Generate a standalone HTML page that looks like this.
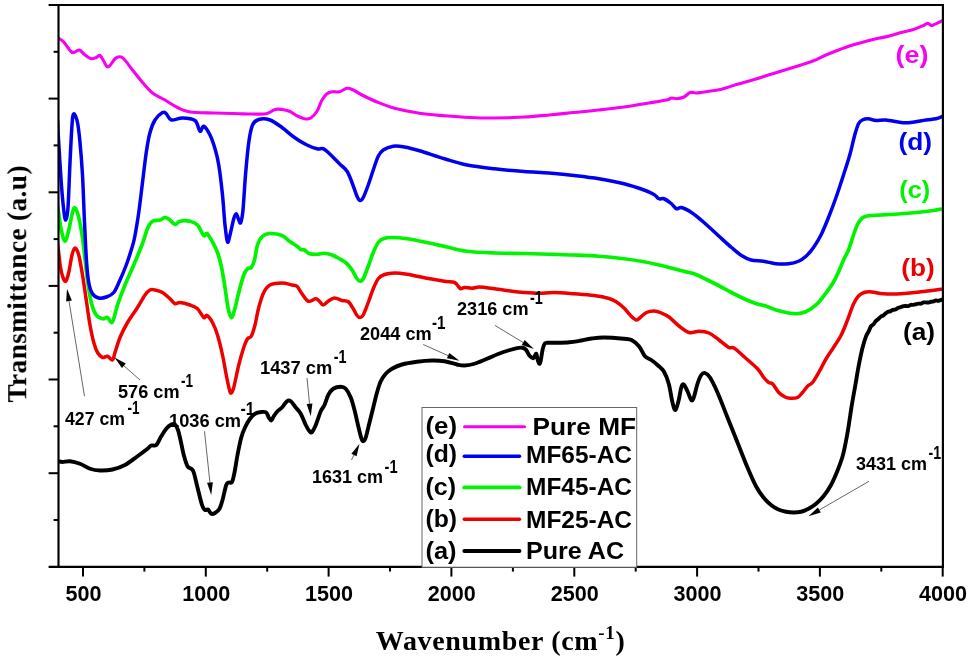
<!DOCTYPE html>
<html><head><meta charset="utf-8"><title>FTIR spectra</title>
<style>
html,body{margin:0;padding:0;background:#fff;}
text.fs,g.fs text{font-family:"Liberation Sans",sans-serif;font-weight:bold;}
text.fr{font-family:"Liberation Serif",serif;font-weight:bold;}
body{width:968px;height:661px;overflow:hidden;position:relative;font-family:"Liberation Sans",sans-serif;}
</style></head><body>
<svg width="968" height="661" viewBox="0 0 968 661" style="display:block;position:absolute;left:0;top:0">
<rect x="0" y="0" width="968" height="661" fill="#ffffff"/>
<filter id="idf" x="0" y="0" width="968" height="661" filterUnits="userSpaceOnUse"><feOffset dx="0" dy="0"/></filter>
<g filter="url(#idf)">
<defs><clipPath id="cp"><rect x="58.5" y="5.0" width="884.4" height="561.8"/></clipPath></defs>
<g clip-path="url(#cp)" fill="none" stroke-linejoin="round" stroke-linecap="round">
<path d="M57.50,461.00C57.62,461.04 57.42,461.08 58.25,461.25C59.08,461.42 60.54,462.00 62.50,462.00C64.46,462.00 67.08,460.96 70.00,461.25C72.92,461.54 76.67,462.50 80.00,463.75C83.33,465.00 86.67,467.62 90.00,468.75C93.33,469.88 96.25,470.38 100.00,470.50C103.75,470.62 108.33,470.42 112.50,469.50C116.67,468.58 120.83,467.21 125.00,465.00C129.17,462.79 133.75,458.96 137.50,456.25C141.25,453.54 145.21,450.54 147.50,448.75C149.79,446.96 149.79,446.12 151.25,445.50C152.71,444.88 154.58,446.54 156.25,445.00C157.92,443.46 159.58,438.96 161.25,436.25C162.92,433.54 164.58,430.71 166.25,428.75C167.92,426.79 169.79,425.21 171.25,424.50C172.71,423.79 173.88,423.58 175.00,424.50C176.12,425.42 177.08,427.42 178.00,430.00C178.92,432.58 179.54,435.83 180.50,440.00C181.46,444.17 182.58,450.62 183.75,455.00C184.92,459.38 186.25,463.96 187.50,466.25C188.75,468.54 190.21,467.71 191.25,468.75C192.29,469.79 192.71,469.38 193.75,472.50C194.79,475.62 196.12,482.08 197.50,487.50C198.88,492.92 200.75,501.25 202.00,505.00C203.25,508.75 204.00,509.25 205.00,510.00C206.00,510.75 206.96,508.88 208.00,509.50C209.04,510.12 210.08,513.17 211.25,513.75C212.42,514.33 213.62,513.83 215.00,513.00C216.38,512.17 218.25,510.92 219.50,508.75C220.75,506.58 221.38,503.96 222.50,500.00C223.62,496.04 225.21,487.92 226.25,485.00C227.29,482.08 227.79,483.00 228.75,482.50C229.71,482.00 231.04,483.67 232.00,482.00C232.96,480.33 233.58,477.00 234.50,472.50C235.42,468.00 236.38,460.83 237.50,455.00C238.62,449.17 240.00,442.08 241.25,437.50C242.50,432.92 243.54,430.62 245.00,427.50C246.46,424.38 248.33,421.04 250.00,418.75C251.67,416.46 253.12,414.88 255.00,413.75C256.88,412.62 259.38,412.21 261.25,412.00C263.12,411.79 265.00,411.58 266.25,412.50C267.50,413.42 267.92,416.17 268.75,417.50C269.58,418.83 270.42,420.71 271.25,420.50C272.08,420.29 272.71,417.79 273.75,416.25C274.79,414.71 276.12,412.71 277.50,411.25C278.88,409.79 280.42,409.17 282.00,407.50C283.58,405.83 285.54,402.29 287.00,401.25C288.46,400.21 289.29,400.21 290.75,401.25C292.21,402.29 294.08,405.42 295.75,407.50C297.42,409.58 299.08,410.83 300.75,413.75C302.42,416.67 304.29,422.08 305.75,425.00C307.21,427.92 308.46,430.08 309.50,431.25C310.54,432.42 310.96,433.04 312.00,432.00C313.04,430.96 314.29,428.46 315.75,425.00C317.21,421.54 319.29,414.58 320.75,411.25C322.21,407.92 323.25,407.71 324.50,405.00C325.75,402.29 326.79,397.71 328.25,395.00C329.71,392.29 331.17,390.12 333.25,388.75C335.33,387.38 338.67,386.75 340.75,386.75C342.83,386.75 344.08,386.96 345.75,388.75C347.42,390.54 349.29,393.96 350.75,397.50C352.21,401.04 353.25,405.21 354.50,410.00C355.75,414.79 357.08,421.46 358.25,426.25C359.42,431.04 360.67,436.25 361.50,438.75C362.33,441.25 362.54,441.46 363.25,441.25C363.96,441.04 364.71,440.62 365.75,437.50C366.79,434.38 368.25,427.50 369.50,422.50C370.75,417.50 372.00,412.50 373.25,407.50C374.50,402.50 375.75,396.88 377.00,392.50C378.25,388.12 379.29,384.38 380.75,381.25C382.21,378.12 383.88,375.83 385.75,373.75C387.62,371.67 389.29,370.29 392.00,368.75C394.71,367.21 397.83,365.67 402.00,364.50C406.17,363.33 412.00,362.42 417.00,361.75C422.00,361.08 427.42,360.58 432.00,360.50C436.58,360.42 440.33,360.58 444.50,361.25C448.67,361.92 453.67,363.79 457.00,364.50C460.33,365.21 461.58,365.62 464.50,365.50C467.42,365.38 470.75,364.88 474.50,363.75C478.25,362.62 482.42,360.62 487.00,358.75C491.58,356.88 497.17,354.24 502.00,352.50C506.83,350.76 512.65,349.10 516.00,348.30C519.35,347.50 520.45,347.48 522.10,347.70C523.75,347.92 524.65,348.25 525.90,349.60C527.15,350.95 528.37,354.35 529.60,355.80C530.83,357.25 532.37,358.40 533.30,358.30C534.23,358.20 534.68,355.93 535.20,355.20C535.72,354.47 536.00,353.18 536.40,353.90C536.80,354.62 537.12,357.85 537.60,359.50C538.08,361.15 538.78,363.60 539.30,363.80C539.82,364.00 540.15,363.07 540.70,360.70C541.25,358.33 541.97,352.38 542.60,349.60C543.23,346.82 543.78,345.13 544.50,344.00C545.22,342.87 544.83,343.00 546.90,342.80C548.97,342.60 553.17,342.88 556.90,342.80C560.63,342.72 565.58,342.62 569.30,342.30C573.02,341.98 575.48,341.53 579.20,340.90C582.92,340.27 587.47,339.07 591.60,338.50C595.73,337.93 598.60,337.46 604.00,337.50C609.40,337.54 619.42,338.33 624.00,338.75C628.58,339.17 629.00,338.75 631.50,340.00C634.00,341.25 636.75,343.54 639.00,346.25C641.25,348.96 642.96,353.96 645.00,356.25C647.04,358.54 649.17,358.54 651.25,360.00C653.33,361.46 655.42,363.12 657.50,365.00C659.58,366.88 661.88,368.12 663.75,371.25C665.62,374.38 667.29,378.54 668.75,383.75C670.21,388.96 671.38,398.12 672.50,402.50C673.62,406.88 674.46,410.42 675.50,410.00C676.54,409.58 677.79,403.75 678.75,400.00C679.71,396.25 680.42,390.08 681.25,387.50C682.08,384.92 682.71,383.88 683.75,384.50C684.79,385.12 686.25,388.67 687.50,391.25C688.75,393.83 690.21,398.96 691.25,400.00C692.29,401.04 692.71,400.21 693.75,397.50C694.79,394.79 696.25,387.50 697.50,383.75C698.75,380.00 700.00,376.79 701.25,375.00C702.50,373.21 703.54,372.58 705.00,373.00C706.46,373.42 707.92,374.25 710.00,377.50C712.08,380.75 714.58,385.83 717.50,392.50C720.42,399.17 724.17,409.17 727.50,417.50C730.83,425.83 734.17,434.17 737.50,442.50C740.83,450.83 744.42,460.21 747.50,467.50C750.58,474.79 753.33,481.25 756.00,486.25C758.67,491.25 761.00,494.38 763.50,497.50C766.00,500.62 768.50,503.00 771.00,505.00C773.50,507.00 776.00,508.38 778.50,509.50C781.00,510.62 783.50,511.25 786.00,511.75C788.50,512.25 791.00,512.50 793.50,512.50C796.00,512.50 798.50,512.38 801.00,511.75C803.50,511.12 806.00,510.08 808.50,508.75C811.00,507.42 813.50,505.83 816.00,503.75C818.50,501.67 821.00,499.38 823.50,496.25C826.00,493.12 828.71,489.17 831.00,485.00C833.29,480.83 835.38,475.83 837.25,471.25C839.12,466.67 841.02,461.38 842.25,457.50C843.48,453.62 843.64,452.58 844.60,448.00C845.56,443.42 846.83,436.93 848.00,430.00C849.17,423.07 850.40,413.73 851.60,406.40C852.80,399.07 854.00,392.87 855.20,386.00C856.40,379.13 857.60,371.50 858.80,365.20C860.00,358.90 861.18,353.05 862.40,348.20C863.62,343.35 865.08,338.85 866.10,336.10C867.12,333.35 867.70,333.33 868.50,331.71C869.30,330.09 870.10,327.61 870.90,326.40C871.70,325.19 872.52,325.30 873.33,324.42C874.14,323.54 874.96,322.02 875.77,321.13C876.58,320.24 877.39,319.83 878.20,319.10C879.01,318.37 879.82,317.30 880.63,316.73C881.44,316.17 882.26,316.25 883.07,315.71C883.88,315.17 884.70,314.16 885.50,313.50C886.30,312.84 887.10,312.12 887.90,311.77C888.70,311.42 889.50,311.70 890.30,311.39C891.10,311.08 891.84,310.22 892.70,309.90C893.56,309.58 894.55,309.83 895.47,309.48C896.39,309.13 897.31,308.23 898.23,307.82C899.15,307.41 900.12,307.29 901.00,307.00C901.88,306.71 902.67,306.27 903.50,306.10C904.33,305.93 905.17,305.97 906.00,305.97C906.83,305.97 907.67,306.31 908.50,306.12C909.33,305.93 910.17,305.03 911.00,304.82C911.83,304.61 912.67,304.96 913.50,304.86C914.33,304.76 915.17,304.46 916.00,304.25C916.83,304.04 917.67,303.69 918.50,303.59C919.33,303.49 920.17,303.83 921.00,303.64C921.83,303.45 922.67,302.65 923.50,302.45C924.33,302.25 925.17,302.41 926.00,302.42C926.83,302.43 927.67,302.60 928.50,302.49C929.33,302.38 930.18,301.93 931.00,301.75C931.82,301.57 932.60,301.63 933.40,301.42C934.20,301.21 935.00,300.55 935.80,300.46C936.60,300.37 937.40,300.94 938.20,300.87C939.00,300.80 939.80,300.29 940.60,300.06C941.40,299.83 942.27,299.64 943.00,299.50C943.73,299.36 944.67,299.25 945.00,299.20" stroke="#000000" stroke-width="3.9"/>
<path d="M57.50,243.00C57.62,243.96 57.75,244.67 58.25,248.75C58.75,252.83 59.71,262.71 60.50,267.50C61.29,272.29 62.12,275.21 63.00,277.50C63.88,279.79 64.79,282.08 65.75,281.25C66.71,280.42 67.71,276.88 68.75,272.50C69.79,268.12 70.96,259.08 72.00,255.00C73.04,250.92 73.88,248.00 75.00,248.00C76.12,248.00 77.50,250.50 78.75,255.00C80.00,259.50 81.25,267.50 82.50,275.00C83.75,282.50 85.00,291.67 86.25,300.00C87.50,308.33 88.75,317.92 90.00,325.00C91.25,332.08 92.50,337.92 93.75,342.50C95.00,347.08 96.04,350.00 97.50,352.50C98.96,355.00 100.83,356.88 102.50,357.50C104.17,358.12 105.83,355.83 107.50,356.25C109.17,356.67 111.25,360.62 112.50,360.00C113.75,359.38 113.75,356.25 115.00,352.50C116.25,348.75 117.92,342.50 120.00,337.50C122.08,332.50 124.58,327.50 127.50,322.50C130.42,317.50 134.58,312.08 137.50,307.50C140.42,302.92 142.92,297.92 145.00,295.00C147.08,292.08 148.33,290.83 150.00,290.00C151.67,289.17 152.92,289.58 155.00,290.00C157.08,290.42 160.00,291.04 162.50,292.50C165.00,293.96 167.92,296.88 170.00,298.75C172.08,300.62 173.33,303.12 175.00,303.75C176.67,304.38 177.50,302.29 180.00,302.50C182.50,302.71 187.08,303.96 190.00,305.00C192.92,306.04 195.21,306.67 197.50,308.75C199.79,310.83 202.17,316.38 203.75,317.50C205.33,318.62 205.54,314.67 207.00,315.50C208.46,316.33 210.75,319.25 212.50,322.50C214.25,325.75 215.83,329.58 217.50,335.00C219.17,340.42 221.04,348.33 222.50,355.00C223.96,361.67 225.08,369.17 226.25,375.00C227.42,380.83 228.67,387.00 229.50,390.00C230.33,393.00 230.54,393.42 231.25,393.00C231.96,392.58 232.50,392.17 233.75,387.50C235.00,382.83 237.08,371.67 238.75,365.00C240.42,358.33 242.29,351.88 243.75,347.50C245.21,343.12 246.25,340.62 247.50,338.75C248.75,336.88 250.00,338.54 251.25,336.25C252.50,333.96 253.75,329.79 255.00,325.00C256.25,320.21 257.29,312.92 258.75,307.50C260.21,302.08 261.88,296.25 263.75,292.50C265.62,288.75 266.96,286.58 270.00,285.00C273.04,283.42 278.33,283.00 282.00,283.00C285.67,283.00 289.50,284.46 292.00,285.00C294.50,285.54 295.33,284.79 297.00,286.25C298.67,287.71 300.12,291.25 302.00,293.75C303.88,296.25 305.96,300.42 308.25,301.25C310.54,302.08 313.88,298.75 315.75,298.75C317.62,298.75 318.25,300.21 319.50,301.25C320.75,302.29 321.79,305.00 323.25,305.00C324.71,305.00 326.38,302.42 328.25,301.25C330.12,300.08 332.21,298.12 334.50,298.00C336.79,297.88 339.71,299.88 342.00,300.50C344.29,301.12 346.38,300.38 348.25,301.75C350.12,303.12 351.79,306.46 353.25,308.75C354.71,311.04 355.88,314.04 357.00,315.50C358.12,316.96 358.96,317.58 360.00,317.50C361.04,317.42 361.88,317.50 363.25,315.00C364.62,312.50 366.58,306.88 368.25,302.50C369.92,298.12 371.58,292.71 373.25,288.75C374.92,284.79 376.38,281.12 378.25,278.75C380.12,276.38 381.79,275.46 384.50,274.50C387.21,273.54 390.75,273.04 394.50,273.00C398.25,272.96 401.58,273.38 407.00,274.25C412.42,275.12 420.75,277.08 427.00,278.25C433.25,279.42 439.92,280.54 444.50,281.25C449.08,281.96 452.21,281.67 454.50,282.50C456.79,283.33 457.21,285.21 458.25,286.25C459.29,287.29 459.71,288.54 460.75,288.75C461.79,288.96 462.62,287.58 464.50,287.50C466.38,287.42 469.50,288.33 472.00,288.25C474.50,288.17 475.75,286.92 479.50,287.00C483.25,287.08 489.08,288.04 494.50,288.75C499.92,289.46 507.08,290.62 512.00,291.25C516.92,291.88 519.50,292.17 524.00,292.50C528.50,292.83 534.00,293.25 539.00,293.25C544.00,293.25 548.17,292.42 554.00,292.50C559.83,292.58 567.33,293.25 574.00,293.75C580.67,294.25 588.17,294.71 594.00,295.50C599.83,296.29 605.25,297.42 609.00,298.50C612.75,299.58 614.00,300.42 616.50,302.00C619.00,303.58 621.50,305.58 624.00,308.00C626.50,310.42 629.42,314.50 631.50,316.50C633.58,318.50 635.04,319.83 636.50,320.00C637.96,320.17 638.58,318.75 640.25,317.50C641.92,316.25 644.21,313.58 646.50,312.50C648.79,311.42 651.50,310.92 654.00,311.00C656.50,311.08 659.00,312.00 661.50,313.00C664.00,314.00 666.08,314.83 669.00,317.00C671.92,319.17 675.67,323.42 679.00,326.00C682.33,328.58 685.67,331.62 689.00,332.50C692.33,333.38 695.67,331.17 699.00,331.25C702.33,331.33 705.67,331.54 709.00,333.00C712.33,334.46 715.67,337.58 719.00,340.00C722.33,342.42 726.50,346.17 729.00,347.50C731.50,348.83 731.33,346.33 734.00,348.00C736.67,349.67 741.08,354.04 745.00,357.50C748.92,360.96 754.38,365.42 757.50,368.75C760.62,372.08 761.88,375.21 763.75,377.50C765.62,379.79 767.29,381.46 768.75,382.50C770.21,383.54 770.83,382.08 772.50,383.75C774.17,385.42 776.67,390.29 778.75,392.50C780.83,394.71 783.12,396.04 785.00,397.00C786.88,397.96 787.92,398.17 790.00,398.25C792.08,398.33 795.42,398.46 797.50,397.50C799.58,396.54 800.83,394.38 802.50,392.50C804.17,390.62 805.83,387.92 807.50,386.25C809.17,384.58 810.58,384.88 812.50,382.50C814.42,380.12 816.75,375.92 819.00,372.00C821.25,368.08 823.58,363.08 826.00,359.00C828.42,354.92 831.00,351.42 833.50,347.50C836.00,343.58 838.67,340.08 841.00,335.50C843.33,330.92 845.42,325.25 847.50,320.00C849.58,314.75 851.67,308.00 853.50,304.00C855.33,300.00 856.62,297.95 858.50,296.00C860.38,294.05 862.53,292.97 864.80,292.30C867.07,291.63 868.98,291.76 872.10,292.00C875.22,292.24 878.68,293.46 883.50,293.75C888.32,294.04 894.75,294.08 901.00,293.75C907.25,293.42 914.00,292.54 921.00,291.75C928.00,290.96 939.00,289.49 943.00,289.00C947.00,288.51 944.67,288.83 945.00,288.80" stroke="#ee0000" stroke-width="3.5"/>
<path d="M57.50,205.00C57.62,205.83 57.62,205.83 58.25,210.00C58.88,214.17 60.12,224.79 61.25,230.00C62.38,235.21 63.75,241.25 65.00,241.25C66.25,241.25 67.50,234.79 68.75,230.00C70.00,225.21 71.46,216.17 72.50,212.50C73.54,208.83 73.96,207.17 75.00,208.00C76.04,208.83 77.50,212.50 78.75,217.50C80.00,222.50 81.04,227.58 82.50,238.00C83.96,248.42 86.04,269.25 87.50,280.00C88.96,290.75 89.79,296.67 91.25,302.50C92.71,308.33 94.38,312.29 96.25,315.00C98.12,317.71 100.62,318.33 102.50,318.75C104.38,319.17 106.04,316.88 107.50,317.50C108.96,318.12 110.21,322.29 111.25,322.50C112.29,322.71 112.71,321.67 113.75,318.75C114.79,315.83 115.62,310.62 117.50,305.00C119.38,299.38 122.29,291.67 125.00,285.00C127.71,278.33 130.83,271.92 133.75,265.00C136.67,258.08 140.21,249.58 142.50,243.50C144.79,237.42 145.83,232.21 147.50,228.50C149.17,224.79 150.42,222.67 152.50,221.25C154.58,219.83 157.92,220.62 160.00,220.00C162.08,219.38 163.33,217.50 165.00,217.50C166.67,217.50 168.33,218.83 170.00,220.00C171.67,221.17 173.33,224.29 175.00,224.50C176.67,224.71 177.50,221.79 180.00,221.25C182.50,220.71 187.08,220.62 190.00,221.25C192.92,221.88 195.21,222.62 197.50,225.00C199.79,227.38 202.17,234.08 203.75,235.50C205.33,236.92 205.54,232.42 207.00,233.50C208.46,234.58 210.75,238.83 212.50,242.00C214.25,245.17 216.04,248.50 217.50,252.50C218.96,256.50 220.00,260.17 221.25,266.00C222.50,271.83 223.88,280.58 225.00,287.50C226.12,294.42 226.96,302.50 228.00,307.50C229.04,312.50 230.17,317.08 231.25,317.50C232.33,317.92 233.25,314.17 234.50,310.00C235.75,305.83 237.21,298.33 238.75,292.50C240.29,286.67 242.29,278.96 243.75,275.00C245.21,271.04 246.25,270.00 247.50,268.75C248.75,267.50 250.08,268.96 251.25,267.50C252.42,266.04 253.46,263.75 254.50,260.00C255.54,256.25 256.17,248.96 257.50,245.00C258.83,241.04 260.42,238.17 262.50,236.25C264.58,234.33 266.75,233.62 270.00,233.50C273.25,233.38 278.75,234.21 282.00,235.50C285.25,236.79 287.00,239.46 289.50,241.25C292.00,243.04 295.12,244.88 297.00,246.25C298.88,247.62 299.50,248.88 300.75,249.50C302.00,250.12 303.04,249.29 304.50,250.00C305.96,250.71 307.42,253.04 309.50,253.75C311.58,254.46 314.50,254.33 317.00,254.25C319.50,254.17 322.00,253.12 324.50,253.25C327.00,253.38 329.50,254.08 332.00,255.00C334.50,255.92 337.00,257.29 339.50,258.75C342.00,260.21 344.92,261.88 347.00,263.75C349.08,265.62 350.33,267.50 352.00,270.00C353.67,272.50 355.67,276.88 357.00,278.75C358.33,280.62 358.96,281.25 360.00,281.25C361.04,281.25 361.88,281.25 363.25,278.75C364.62,276.25 366.58,270.62 368.25,266.25C369.92,261.88 371.58,256.46 373.25,252.50C374.92,248.54 376.58,244.79 378.25,242.50C379.92,240.21 380.96,239.58 383.25,238.75C385.54,237.92 388.04,237.50 392.00,237.50C395.96,237.50 401.17,237.92 407.00,238.75C412.83,239.58 420.33,241.12 427.00,242.50C433.67,243.88 440.33,245.54 447.00,247.00C453.67,248.46 459.08,250.25 467.00,251.25C474.92,252.25 485.00,252.62 494.50,253.00C504.00,253.38 514.92,253.29 524.00,253.50C533.08,253.71 540.67,254.00 549.00,254.25C557.33,254.50 565.67,254.67 574.00,255.00C582.33,255.33 590.67,255.62 599.00,256.25C607.33,256.88 616.50,257.83 624.00,258.75C631.50,259.67 638.17,260.71 644.00,261.75C649.83,262.79 654.00,263.83 659.00,265.00C664.00,266.17 670.25,267.79 674.00,268.75C677.75,269.71 678.17,269.92 681.50,270.75C684.83,271.58 689.83,272.29 694.00,273.75C698.17,275.21 702.33,277.50 706.50,279.50C710.67,281.50 714.83,283.58 719.00,285.75C723.17,287.92 727.33,290.33 731.50,292.50C735.67,294.67 739.83,296.88 744.00,298.75C748.17,300.62 752.83,302.54 756.50,303.75C760.17,304.96 762.75,304.96 766.00,306.00C769.25,307.04 772.25,308.83 776.00,310.00C779.75,311.17 785.17,312.38 788.50,313.00C791.83,313.62 793.50,313.83 796.00,313.75C798.50,313.67 801.00,313.33 803.50,312.50C806.00,311.67 808.50,310.42 811.00,308.75C813.50,307.08 816.00,305.12 818.50,302.50C821.00,299.88 823.50,296.42 826.00,293.00C828.50,289.58 831.17,286.08 833.50,282.00C835.83,277.92 838.25,272.33 840.00,268.50C841.75,264.67 842.58,262.08 844.00,259.00C845.42,255.92 846.92,254.00 848.50,250.00C850.08,246.00 852.04,239.17 853.50,235.00C854.96,230.83 855.79,227.83 857.25,225.00C858.71,222.17 860.38,219.54 862.25,218.00C864.12,216.46 865.38,216.25 868.50,215.75C871.62,215.25 875.58,215.33 881.00,215.00C886.42,214.67 894.33,214.25 901.00,213.75C907.67,213.25 915.58,212.54 921.00,212.00C926.42,211.46 929.83,211.04 933.50,210.50C937.17,209.96 941.08,209.12 943.00,208.75C944.92,208.38 944.67,208.38 945.00,208.30" stroke="#00f400" stroke-width="3.7"/>
<path d="M57.50,120.00C57.62,122.50 57.62,124.58 58.25,135.00C58.88,145.42 60.33,170.00 61.25,182.50C62.17,195.00 63.00,203.75 63.75,210.00C64.50,216.25 65.04,220.42 65.75,220.00C66.46,219.58 67.29,217.08 68.00,207.50C68.71,197.92 69.33,176.25 70.00,162.50C70.67,148.75 71.38,133.12 72.00,125.00C72.62,116.88 72.83,114.17 73.75,113.75C74.67,113.33 76.46,117.71 77.50,122.50C78.54,127.29 79.17,133.75 80.00,142.50C80.83,151.25 81.75,161.75 82.50,175.00C83.25,188.25 83.83,207.67 84.50,222.00C85.17,236.33 85.79,250.92 86.50,261.00C87.21,271.08 87.75,277.04 88.75,282.50C89.75,287.96 90.83,291.17 92.50,293.75C94.17,296.33 96.46,297.46 98.75,298.00C101.04,298.54 103.75,297.92 106.25,297.00C108.75,296.08 111.46,295.33 113.75,292.50C116.04,289.67 117.92,284.58 120.00,280.00C122.08,275.42 124.38,270.00 126.25,265.00C128.12,260.00 129.88,254.50 131.25,250.00C132.62,245.50 133.25,244.25 134.50,238.00C135.75,231.75 137.42,221.75 138.75,212.50C140.08,203.25 141.25,192.50 142.50,182.50C143.75,172.50 145.00,160.83 146.25,152.50C147.50,144.17 148.54,137.92 150.00,132.50C151.46,127.08 152.92,123.33 155.00,120.00C157.08,116.67 160.62,113.54 162.50,112.50C164.38,111.46 164.79,112.50 166.25,113.75C167.71,115.00 168.54,119.29 171.25,120.00C173.96,120.71 178.54,117.92 182.50,118.00C186.46,118.08 192.08,118.29 195.00,120.50C197.92,122.71 198.54,130.29 200.00,131.25C201.46,132.21 202.08,125.62 203.75,126.25C205.42,126.88 208.12,131.25 210.00,135.00C211.88,138.75 213.54,143.75 215.00,148.75C216.46,153.75 217.50,157.29 218.75,165.00C220.00,172.71 221.46,185.00 222.50,195.00C223.54,205.00 224.17,217.17 225.00,225.00C225.83,232.83 226.67,240.33 227.50,242.00C228.33,243.67 228.96,238.88 230.00,235.00C231.04,231.12 232.71,222.29 233.75,218.75C234.79,215.21 235.42,213.54 236.25,213.75C237.08,213.96 238.00,218.54 238.75,220.00C239.50,221.46 240.04,224.17 240.75,222.50C241.46,220.83 242.21,217.92 243.00,210.00C243.79,202.08 244.54,186.25 245.50,175.00C246.46,163.75 247.58,150.83 248.75,142.50C249.92,134.17 250.83,128.83 252.50,125.00C254.17,121.17 255.83,120.33 258.75,119.50C261.67,118.67 266.12,118.67 270.00,120.00C273.88,121.33 277.92,124.58 282.00,127.50C286.08,130.42 290.33,134.58 294.50,137.50C298.67,140.42 303.25,143.12 307.00,145.00C310.75,146.88 314.29,148.12 317.00,148.75C319.71,149.38 321.17,147.92 323.25,148.75C325.33,149.58 326.79,151.25 329.50,153.75C332.21,156.25 336.58,160.83 339.50,163.75C342.42,166.67 344.92,168.12 347.00,171.25C349.08,174.38 350.33,178.33 352.00,182.50C353.67,186.67 355.67,193.25 357.00,196.25C358.33,199.25 358.96,200.29 360.00,200.50C361.04,200.71 361.88,200.08 363.25,197.50C364.62,194.92 366.58,189.58 368.25,185.00C369.92,180.42 371.58,174.79 373.25,170.00C374.92,165.21 376.58,159.58 378.25,156.25C379.92,152.92 380.75,151.67 383.25,150.00C385.75,148.33 389.71,146.75 393.25,146.25C396.79,145.75 400.12,146.25 404.50,147.00C408.88,147.75 412.83,148.79 419.50,150.75C426.17,152.71 436.58,156.38 444.50,158.75C452.42,161.12 458.67,163.33 467.00,165.00C475.33,166.67 485.00,167.67 494.50,168.75C504.00,169.83 514.92,170.79 524.00,171.50C533.08,172.21 540.67,172.33 549.00,173.00C557.33,173.67 565.67,174.54 574.00,175.50C582.33,176.46 590.67,177.38 599.00,178.75C607.33,180.12 616.50,181.88 624.00,183.75C631.50,185.62 639.00,188.21 644.00,190.00C649.00,191.79 651.50,193.04 654.00,194.50C656.50,195.96 657.33,198.04 659.00,198.75C660.67,199.46 661.92,197.92 664.00,198.75C666.08,199.58 669.42,202.08 671.50,203.75C673.58,205.42 674.83,208.12 676.50,208.75C678.17,209.38 679.00,206.88 681.50,207.50C684.00,208.12 687.75,210.00 691.50,212.50C695.25,215.00 699.42,218.54 704.00,222.50C708.58,226.46 714.42,232.08 719.00,236.25C723.58,240.42 727.75,244.29 731.50,247.50C735.25,250.71 738.25,253.42 741.50,255.50C744.75,257.58 747.33,259.04 751.00,260.00C754.67,260.96 759.33,260.62 763.50,261.25C767.67,261.88 771.83,263.33 776.00,263.75C780.17,264.17 784.75,264.17 788.50,263.75C792.25,263.33 795.58,262.50 798.50,261.25C801.42,260.00 803.50,258.54 806.00,256.25C808.50,253.96 811.00,251.04 813.50,247.50C816.00,243.96 818.50,240.00 821.00,235.00C823.50,230.00 826.00,223.75 828.50,217.50C831.00,211.25 833.50,204.58 836.00,197.50C838.50,190.42 841.21,182.08 843.50,175.00C845.79,167.92 847.88,161.67 849.75,155.00C851.62,148.33 853.29,140.21 854.75,135.00C856.21,129.79 857.25,126.25 858.50,123.75C859.75,121.25 860.58,120.83 862.25,120.00C863.92,119.17 866.21,118.67 868.50,118.75C870.79,118.83 873.08,120.29 876.00,120.50C878.92,120.71 881.83,119.67 886.00,120.00C890.17,120.33 896.83,122.08 901.00,122.50C905.17,122.92 906.83,122.92 911.00,122.50C915.17,122.08 921.83,120.62 926.00,120.00C930.17,119.38 933.17,119.38 936.00,118.75C938.83,118.12 941.50,116.79 943.00,116.25C944.50,115.71 944.67,115.62 945.00,115.50" stroke="#0000ee" stroke-width="3.5"/>
<path d="M57.00,37.00C57.21,37.17 57.12,37.17 58.25,38.00C59.38,38.83 61.58,39.71 63.75,42.00C65.92,44.29 69.38,50.08 71.25,51.75C73.12,53.42 73.62,52.29 75.00,52.00C76.38,51.71 77.83,49.50 79.50,50.00C81.17,50.50 83.04,53.54 85.00,55.00C86.96,56.46 89.38,58.33 91.25,58.75C93.12,59.17 94.79,58.04 96.25,57.50C97.71,56.96 98.75,54.88 100.00,55.50C101.25,56.12 102.58,59.38 103.75,61.25C104.92,63.12 105.96,66.04 107.00,66.75C108.04,67.46 108.67,66.83 110.00,65.50C111.33,64.17 113.42,60.21 115.00,58.75C116.58,57.29 118.04,56.75 119.50,56.75C120.96,56.75 121.58,56.54 123.75,58.75C125.92,60.96 129.38,66.04 132.50,70.00C135.62,73.96 139.17,78.67 142.50,82.50C145.83,86.33 148.75,90.08 152.50,93.00C156.25,95.92 160.83,97.58 165.00,100.00C169.17,102.42 173.33,105.50 177.50,107.50C181.67,109.50 183.75,111.08 190.00,112.00C196.25,112.92 206.67,112.71 215.00,113.00C223.33,113.29 233.75,113.58 240.00,113.75C246.25,113.92 248.12,114.00 252.50,114.00C256.88,114.00 262.50,114.50 266.25,113.75C270.00,113.00 272.38,110.21 275.00,109.50C277.62,108.79 279.58,109.21 282.00,109.50C284.42,109.79 287.00,110.21 289.50,111.25C292.00,112.29 294.50,114.50 297.00,115.75C299.50,117.00 302.21,118.38 304.50,118.75C306.79,119.12 308.67,119.25 310.75,118.00C312.83,116.75 315.12,114.25 317.00,111.25C318.88,108.25 320.33,102.92 322.00,100.00C323.67,97.08 325.33,95.12 327.00,93.75C328.67,92.38 329.92,92.08 332.00,91.75C334.08,91.42 337.00,92.33 339.50,91.75C342.00,91.17 344.71,88.54 347.00,88.25C349.29,87.96 350.75,88.88 353.25,90.00C355.75,91.12 358.04,93.00 362.00,95.00C365.96,97.00 371.58,99.79 377.00,102.00C382.42,104.21 387.42,106.38 394.50,108.25C401.58,110.12 411.17,112.00 419.50,113.25C427.83,114.50 436.17,115.04 444.50,115.75C452.83,116.46 461.17,117.12 469.50,117.50C477.83,117.88 485.42,118.08 494.50,118.00C503.58,117.92 514.92,117.50 524.00,117.00C533.08,116.50 540.67,115.75 549.00,115.00C557.33,114.25 565.67,113.33 574.00,112.50C582.33,111.67 590.67,110.92 599.00,110.00C607.33,109.08 615.67,108.17 624.00,107.00C632.33,105.83 641.92,104.17 649.00,103.00C656.08,101.83 662.75,100.83 666.50,100.00C670.25,99.17 669.83,98.21 671.50,98.00C673.17,97.79 674.42,98.92 676.50,98.75C678.58,98.58 681.71,98.04 684.00,97.00C686.29,95.96 688.17,93.17 690.25,92.50C692.33,91.83 693.38,93.21 696.50,93.00C699.62,92.79 704.83,91.88 709.00,91.25C713.17,90.62 716.92,90.38 721.50,89.25C726.08,88.12 731.08,86.12 736.50,84.50C741.92,82.88 749.08,80.95 754.00,79.50C758.92,78.05 762.33,76.93 766.00,75.80C769.67,74.67 770.17,74.50 776.00,72.70C781.83,70.90 794.75,66.99 801.00,65.00C807.25,63.01 809.33,62.42 813.50,60.75C817.67,59.08 821.83,56.79 826.00,55.00C830.17,53.21 834.33,51.58 838.50,50.00C842.67,48.42 846.83,46.83 851.00,45.50C855.17,44.17 859.33,43.12 863.50,42.00C867.67,40.88 871.83,39.71 876.00,38.75C880.17,37.79 884.33,37.29 888.50,36.25C892.67,35.21 896.83,33.62 901.00,32.50C905.17,31.38 909.75,30.67 913.50,29.50C917.25,28.33 921.50,26.37 923.50,25.50C925.50,24.63 924.78,24.68 925.50,24.30C926.22,23.92 926.85,23.02 927.80,23.20C928.75,23.38 930.17,25.17 931.20,25.40C932.23,25.63 932.78,25.07 934.00,24.60C935.22,24.13 937.00,23.30 938.50,22.60C940.00,21.90 941.92,20.92 943.00,20.40C944.08,19.88 944.67,19.65 945.00,19.50" stroke="#f800f0" stroke-width="3.1"/>
</g>
<g stroke="#000" stroke-width="2.15" fill="none" stroke-linecap="butt">
<path d="M48.6,5.0 H942.9 V566.8 H48.6"/>
<path d="M58.5,3.9 V567.9"/>
</g>
<g stroke="#000" stroke-width="2" fill="none">
<path d="M48.6,98.6 H58.5"/>
<path d="M48.6,192.3 H58.5"/>
<path d="M48.6,285.9 H58.5"/>
<path d="M48.6,379.5 H58.5"/>
<path d="M48.6,473.2 H58.5"/>
<path d="M53.6,51.8 H58.5"/>
<path d="M53.6,145.4 H58.5"/>
<path d="M53.6,239.1 H58.5"/>
<path d="M53.6,332.7 H58.5"/>
<path d="M53.6,426.3 H58.5"/>
<path d="M53.6,520.0 H58.5"/>
<path d="M83.0,566.8 V576.6"/>
<path d="M205.8,566.8 V576.6"/>
<path d="M328.6,566.8 V576.6"/>
<path d="M451.4,566.8 V576.6"/>
<path d="M574.3,566.8 V576.6"/>
<path d="M697.1,566.8 V576.6"/>
<path d="M819.9,566.8 V576.6"/>
<path d="M942.7,566.8 V576.6"/>
<path d="M144.4,566.8 V571.6"/>
<path d="M267.2,566.8 V571.6"/>
<path d="M390.0,566.8 V571.6"/>
<path d="M512.9,566.8 V571.6"/>
<path d="M635.7,566.8 V571.6"/>
<path d="M758.5,566.8 V571.6"/>
<path d="M881.3,566.8 V571.6"/>
</g>
<g class="fs" font-weight="bold" font-size="21.6" fill="#000" text-anchor="middle">
<text x="83.4" y="600.9">500</text>
<text x="206.2" y="600.9">1000</text>
<text x="329.0" y="600.9">1500</text>
<text x="451.8" y="600.9">2000</text>
<text x="574.7" y="600.9">2500</text>
<text x="697.5" y="600.9">3000</text>
<text x="820.3" y="600.9">3500</text>
<text x="943.1" y="600.9">4000</text>
</g>
<text x="500.3" y="649.7" class="fr" font-weight="bold" font-size="28" text-anchor="middle" textLength="249" lengthAdjust="spacing">Wavenumber (cm<tspan font-size="19" dy="-10.5">-1</tspan><tspan dy="10.5">)</tspan></text>
<text transform="translate(26.2,284) rotate(-90)" class="fr" font-weight="bold" font-size="27.3" text-anchor="middle" textLength="237" lengthAdjust="spacing">Transmittance (a.u)</text>
<path d="M84.50,396.25 L69.01,301.09" stroke="#222" stroke-width="0.7" fill="none"/><path d="M67.00,288.75 L71.87,300.62 L66.15,301.55 Z" fill="#000"/>
<path d="M140.00,380.00 L123.87,365.77" stroke="#222" stroke-width="0.7" fill="none"/><path d="M114.50,357.50 L125.79,363.60 L121.95,367.94 Z" fill="#000"/>
<path d="M204.50,431.25 L209.93,482.57" stroke="#222" stroke-width="0.7" fill="none"/><path d="M211.25,495.00 L207.05,482.87 L212.82,482.26 Z" fill="#000"/>
<path d="M307.00,378.00 L309.53,403.81" stroke="#222" stroke-width="0.7" fill="none"/><path d="M310.75,416.25 L306.64,404.09 L312.42,403.53 Z" fill="#000"/>
<path d="M351.50,460.00 L353.98,454.96" stroke="#222" stroke-width="0.7" fill="none"/><path d="M359.50,443.75 L356.58,456.25 L351.38,453.68 Z" fill="#000"/>
<path d="M423.25,344.50 L448.09,355.64" stroke="#222" stroke-width="0.7" fill="none"/><path d="M459.50,360.75 L446.91,358.28 L449.28,352.99 Z" fill="#000"/>
<path d="M494.90,325.40 L523.21,342.53" stroke="#222" stroke-width="0.7" fill="none"/><path d="M533.90,349.00 L521.70,345.01 L524.71,340.05 Z" fill="#000"/>
<path d="M869.00,481.25 L819.32,509.99" stroke="#222" stroke-width="0.7" fill="none"/><path d="M808.50,516.25 L817.87,507.48 L820.77,512.50 Z" fill="#000"/>
<text class="fs" x="118.00" y="397.70" font-size="18.30" textLength="61.53" lengthAdjust="spacingAndGlyphs" fill="#000">576 cm</text>
<text class="fs" x="181.00" y="386.80" font-size="18.60" textLength="12.03" lengthAdjust="spacingAndGlyphs" fill="#000">-1</text>
<text class="fs" x="65.00" y="424.60" font-size="18.30" textLength="60.02" lengthAdjust="spacingAndGlyphs" fill="#000">427 cm</text>
<text class="fs" x="127.50" y="413.60" font-size="18.60" textLength="12.03" lengthAdjust="spacingAndGlyphs" fill="#000">-1</text>
<text class="fs" x="169.00" y="427.00" font-size="18.30" textLength="72.06" lengthAdjust="spacingAndGlyphs" fill="#000">1036 cm</text>
<text class="fs" x="240.50" y="414.90" font-size="18.60" textLength="14.17" lengthAdjust="spacingAndGlyphs" fill="#000">-1</text>
<text class="fs" x="260.00" y="373.90" font-size="18.30" textLength="72.29" lengthAdjust="spacingAndGlyphs" fill="#000">1437 cm</text>
<text class="fs" x="333.75" y="362.90" font-size="18.60" textLength="12.79" lengthAdjust="spacingAndGlyphs" fill="#000">-1</text>
<text class="fs" x="312.00" y="483.00" font-size="18.30" textLength="71.04" lengthAdjust="spacingAndGlyphs" fill="#000">1631 cm</text>
<text class="fs" x="384.50" y="472.80" font-size="18.60" textLength="13.03" lengthAdjust="spacingAndGlyphs" fill="#000">-1</text>
<text class="fs" x="360.00" y="339.60" font-size="18.30" textLength="71.77" lengthAdjust="spacingAndGlyphs" fill="#000">2044 cm</text>
<text class="fs" x="432.00" y="329.15" font-size="18.60" textLength="13.53" lengthAdjust="spacingAndGlyphs" fill="#000">-1</text>
<text class="fs" x="457.00" y="315.20" font-size="18.30" textLength="71.51" lengthAdjust="spacingAndGlyphs" fill="#000">2316 cm</text>
<text class="fs" x="530.00" y="304.15" font-size="18.60" textLength="12.78" lengthAdjust="spacingAndGlyphs" fill="#000">-1</text>
<text class="fs" x="856.00" y="469.90" font-size="18.30" textLength="71.01" lengthAdjust="spacingAndGlyphs" fill="#000">3431 cm</text>
<text class="fs" x="928.50" y="459.40" font-size="18.60" textLength="12.62" lengthAdjust="spacingAndGlyphs" fill="#000">-1</text>
<text class="fs" x="895.50" y="63.00" font-size="24.50" textLength="32.88" lengthAdjust="spacingAndGlyphs" fill="#f800f0">(e)</text>
<text class="fs" x="898.50" y="150.00" font-size="24.50" textLength="33.62" lengthAdjust="spacingAndGlyphs" fill="#0000ee">(d)</text>
<text class="fs" x="899.25" y="198.00" font-size="24.50" textLength="30.89" lengthAdjust="spacingAndGlyphs" fill="#00f400">(c)</text>
<text class="fs" x="901.25" y="276.25" font-size="24.50" textLength="33.35" lengthAdjust="spacingAndGlyphs" fill="#ee0000">(b)</text>
<text class="fs" x="903.00" y="340.00" font-size="24.50" textLength="32.14" lengthAdjust="spacingAndGlyphs" fill="#000">(a)</text>
<rect x="422" y="407.5" width="214.7" height="159.7" fill="#fff" stroke="#666" stroke-width="1"/>
<g stroke-linecap="round" fill="none">
<path d="M464.5,426.7 H524.5" stroke="#f800f0" stroke-width="3.0"/>
<path d="M464.3,456.2 H519.5" stroke="#0000ee" stroke-width="3.5"/>
<path d="M464.3,487.4 H519.5" stroke="#00f400" stroke-width="3.9"/>
<path d="M464.3,519.3 H519.5" stroke="#ee0000" stroke-width="3.4"/>
<path d="M464.3,551.0 H519.5" stroke="#000" stroke-width="3.9"/>
</g>
<text class="fs" x="425.50" y="434.20" font-size="24.00" textLength="31.62" lengthAdjust="spacingAndGlyphs" fill="#000">(e)</text>
<text class="fs" x="425.50" y="462.40" font-size="24.00" textLength="31.62" lengthAdjust="spacingAndGlyphs" fill="#000">(d)</text>
<text class="fs" x="425.50" y="494.50" font-size="24.00" textLength="30.63" lengthAdjust="spacingAndGlyphs" fill="#000">(c)</text>
<text class="fs" x="425.50" y="526.60" font-size="24.00" textLength="31.62" lengthAdjust="spacingAndGlyphs" fill="#000">(b)</text>
<text class="fs" x="425.50" y="558.60" font-size="24.00" textLength="31.09" lengthAdjust="spacingAndGlyphs" fill="#000">(a)</text>
<text class="fs" x="532.50" y="434.80" font-size="24.80" textLength="103.54" lengthAdjust="spacingAndGlyphs" fill="#000">Pure MF</text>
<text class="fs" x="526.00" y="463.20" font-size="24.80" textLength="106.04" lengthAdjust="spacingAndGlyphs" fill="#000">MF65-AC</text>
<text class="fs" x="526.00" y="494.60" font-size="24.80" textLength="106.04" lengthAdjust="spacingAndGlyphs" fill="#000">MF45-AC</text>
<text class="fs" x="526.00" y="527.50" font-size="24.80" textLength="106.04" lengthAdjust="spacingAndGlyphs" fill="#000">MF25-AC</text>
<text class="fs" x="526.00" y="558.90" font-size="24.80" textLength="98.06" lengthAdjust="spacingAndGlyphs" fill="#000">Pure AC</text>
</g>
</svg>
</body></html>
